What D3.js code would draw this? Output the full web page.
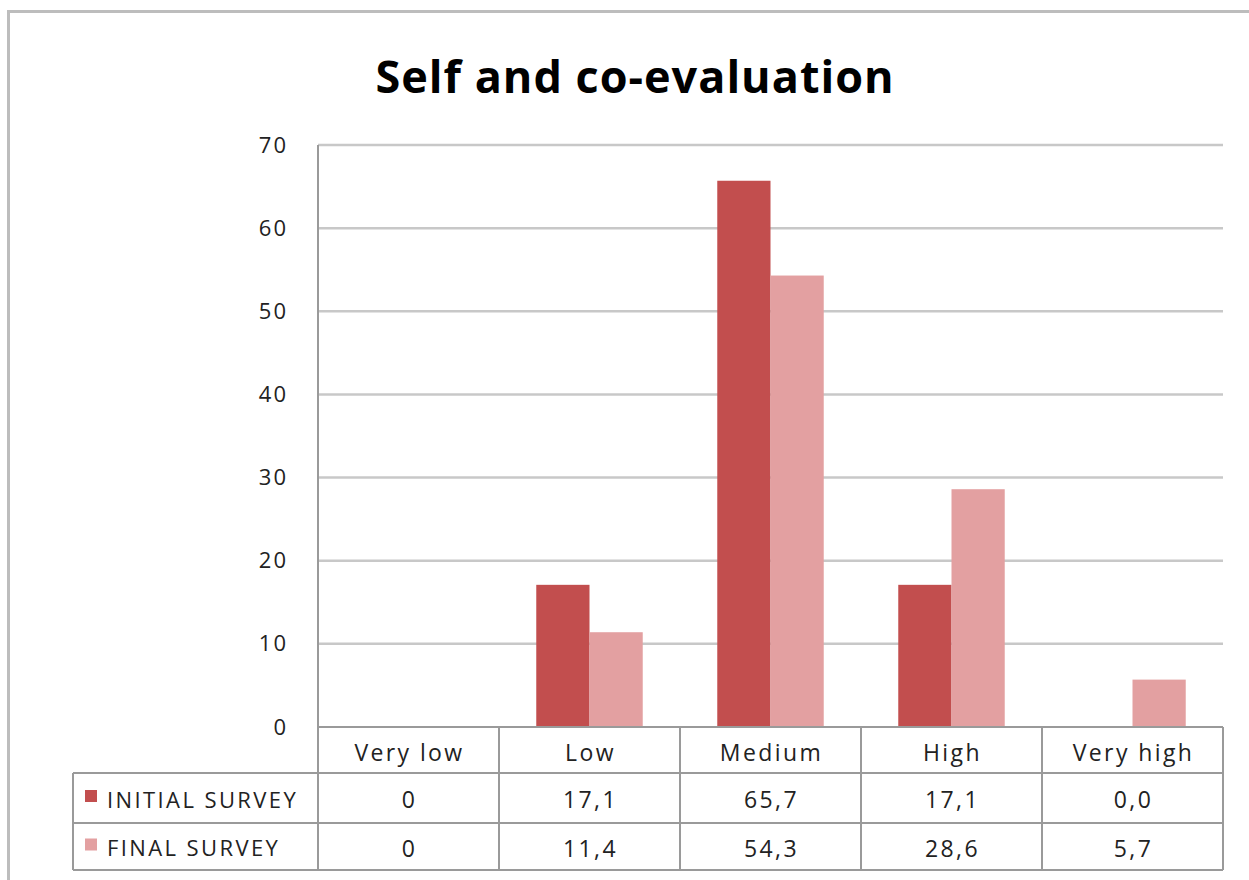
<!DOCTYPE html>
<html>
<head>
<meta charset="utf-8">
<script src="https://cdn.jsdelivr.net/npm/d3@7"></script>
<style>
  body { margin: 0; background: #fff; }
</style>
</head>
<body>
<div id="chart"></div>
<script>
const categories = ["Very low", "Low", "Medium", "High", "Very high"];
const seriesNames = ["INITIAL SURVEY", "FINAL SURVEY"];
const initialValues = [0, 17.1, 65.7, 17.1, 0.0];
const finalValues = [0, 11.4, 54.3, 28.6, 5.7];
const initialLabels = ["0", "17,1", "65,7", "17,1", "0,0"];
const finalLabels = ["0", "11,4", "54,3", "28,6", "5,7"];
const yTicks = [0, 10, 20, 30, 40, 50, 60, 70];

const width = 1249;
const height = 880;
const colors = ["#c24e4e", "#e3a0a1"];
const font = "'Open Sans', Lato, sans-serif";
const spacing = "2.4px";

const plot = { left: 318, right: 1223, top: 145, bottom: 727 };
const rowH = [46, 50, 47];
const tableLeft = 73;

const series = [
  { name: seriesNames[0], values: initialValues, labels: initialLabels },
  { name: seriesNames[1], values: finalValues, labels: finalLabels }
];

const svg = d3.select("#chart")
  .append("svg")
  .attr("width", width)
  .attr("height", height)
  .style("font-family", font);

// outer frame
svg.append("rect")
  .attr("x", 8.5).attr("y", 11.5)
  .attr("width", 1300).attr("height", 950)
  .attr("fill", "none")
  .attr("stroke", "#bdbdbd")
  .attr("stroke-width", 3);

svg.append("text")
  .attr("x", 635)
  .attr("y", 93)
  .attr("text-anchor", "middle")
  .style("font-size", "45px")
  .style("font-weight", "bold")
  .style("letter-spacing", "1px")
  .attr("fill", "#000")
  .text("Self and co-evaluation");

const x = d3.scaleBand()
  .domain(categories)
  .range([plot.left, plot.right])
  .paddingInner(0)
  .paddingOuter(0);

const xs = d3.scaleBand()
  .domain(seriesNames)
  .range([0, x.bandwidth()])
  .paddingOuter(0.7)
  .paddingInner(0);

const y = d3.scaleLinear()
  .domain([0, 70])
  .range([plot.bottom, plot.top]);

// gridlines
svg.append("g")
  .selectAll("line")
  .data(yTicks.filter(t => t > 0))
  .join("line")
  .attr("x1", plot.left).attr("x2", plot.right)
  .attr("y1", d => y(d)).attr("y2", d => y(d))
  .attr("stroke", "#c8c8c8")
  .attr("stroke-width", 2.5);

// y axis
const yAxis = svg.append("g")
  .attr("transform", `translate(${plot.left},0)`)
  .call(d3.axisLeft(y).tickValues(yTicks).tickSize(0).tickPadding(30));
yAxis.select(".domain").remove();
yAxis.selectAll("text")
  .style("font-size", "22px")
  .style("font-family", font)
  .style("letter-spacing", "2px")
  .attr("fill", "#222");

// bars
const groups = svg.append("g")
  .selectAll("g")
  .data(series)
  .join("g")
  .attr("fill", (d, i) => colors[i]);

groups.selectAll("rect")
  .data(s => s.values.map((v, i) => ({ s: s.name, cat: categories[i], v })))
  .join("rect")
  .attr("x", d => x(d.cat) + xs(d.s))
  .attr("width", xs.bandwidth())
  .attr("y", d => y(d.v))
  .attr("height", d => y(0) - y(d.v));

// data table
const rowTop = [plot.bottom, plot.bottom + rowH[0], plot.bottom + rowH[0] + rowH[1]];
const tableBottom = rowTop[2] + rowH[2];
const lineColor = "#9a9a9a";
const table = svg.append("g")
  .attr("stroke", lineColor)
  .attr("stroke-width", 2);

// horizontal lines
table.append("line")
  .attr("x1", plot.left).attr("x2", plot.right)
  .attr("y1", rowTop[0]).attr("y2", rowTop[0]);
[rowTop[1], rowTop[2], tableBottom].forEach(yy => {
  table.append("line")
    .attr("x1", tableLeft).attr("x2", plot.right)
    .attr("y1", yy).attr("y2", yy);
});
// vertical lines
table.append("line")
  .attr("x1", tableLeft).attr("x2", tableLeft)
  .attr("y1", rowTop[1]).attr("y2", tableBottom);
table.append("line")
  .attr("x1", plot.left).attr("x2", plot.left)
  .attr("y1", plot.top).attr("y2", tableBottom);
table.selectAll("line.col")
  .data(categories)
  .join("line")
  .attr("class", "col")
  .attr("x1", d => x(d) + x.bandwidth())
  .attr("x2", d => x(d) + x.bandwidth())
  .attr("y1", rowTop[0]).attr("y2", tableBottom);

// header labels
svg.append("g")
  .selectAll("text")
  .data(categories)
  .join("text")
  .attr("x", d => x(d) + x.bandwidth() / 2 + 1)
  .attr("y", rowTop[0] + rowH[0] / 2 + 3)
  .attr("dy", "0.35em")
  .attr("text-anchor", "middle")
  .style("font-size", "23px")
  .style("letter-spacing", spacing)
  .attr("fill", "#222")
  .text(d => d);

// value rows
series.forEach((s, si) => {
  const top = rowTop[si + 1];
  const h = rowH[si + 1];
  svg.append("rect")
    .attr("x", 85).attr("y", top + h / 2 - 8)
    .attr("width", 12).attr("height", 12)
    .attr("fill", colors[si]);
  svg.append("text")
    .attr("x", 107)
    .attr("y", top + h / 2 + 2)
    .attr("dy", "0.35em")
    .style("font-size", "22px")
    .style("letter-spacing", spacing)
    .attr("fill", "#222")
    .text(s.name);
  svg.append("g")
    .selectAll("text")
    .data(s.labels)
    .join("text")
    .attr("x", (d, i) => x(categories[i]) + x.bandwidth() / 2 + 1)
    .attr("y", top + h / 2 + 2)
    .attr("dy", "0.35em")
    .attr("text-anchor", "middle")
    .style("font-size", "23px")
    .style("letter-spacing", spacing)
    .attr("fill", "#222")
    .text(d => d);
});
</script>
</body>
</html>
